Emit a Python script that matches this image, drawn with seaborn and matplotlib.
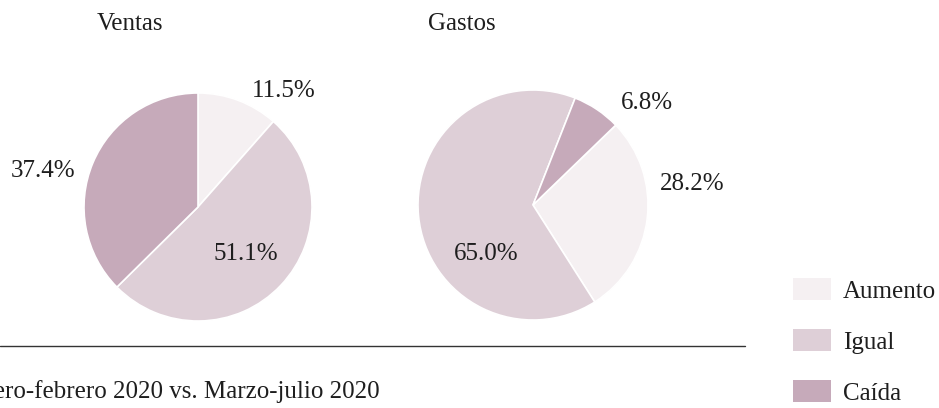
import matplotlib
matplotlib.use("Agg")
import matplotlib.pyplot as plt
import seaborn as sns
import numpy as np
from matplotlib.patches import Patch
from matplotlib.lines import Line2D

# ---- data ----
categories = ["Aumento", "Igual", "Caída"]
ventas = [11.5, 51.1, 37.4]
gastos = [28.2, 65.0, 6.8]
titles = ["Ventas", "Gastos"]
subtitle = "Enero-febrero 2020 vs. Marzo-julio 2020"
colors = ["#F5F0F2", "#DECFD7", "#C6AABA"]

sns.set_theme(style="white")
plt.rcParams["font.family"] = ["Liberation Serif", "DejaVu Serif"]
TXT = "#1e1e1e"
FS = 18

W, H = 939, 408
fig = plt.figure(figsize=(W / 100, H / 100), dpi=100)
SPAN = 1.5


def pie_axes(cx, cy, r):
    ax = fig.add_axes([(cx - r * SPAN) / W, (H - cy - r * SPAN) / H,
                       2 * r * SPAN / W, 2 * r * SPAN / H])
    return ax


def finish(ax):
    ax.set_xlim(-SPAN, SPAN)
    ax.set_ylim(-SPAN, SPAN)
    ax.set_aspect("equal")
    ax.axis("off")


# Ventas
ax1 = pie_axes(198, 207, 114)
ax1.pie(ventas, colors=colors, startangle=90, counterclock=False, radius=1,
        wedgeprops=dict(edgecolor="white", linewidth=1.2))
finish(ax1)
v_pos = [(0.75, 1.04), (0.42, -0.39), (-1.36, 0.34)]
for val, (x, y) in zip(ventas, v_pos):
    ax1.text(x, y, f"{val:.1f}%", ha="center", va="center_baseline", fontsize=FS,
             color=TXT, clip_on=False)

# Gastos
ax2 = pie_axes(533, 205, 115)
ax2.pie(gastos, colors=colors, startangle=44, counterclock=False, radius=1,
        wedgeprops=dict(edgecolor="white", linewidth=1.2))
finish(ax2)
g_pos = [(1.38, 0.20), (-0.41, -0.40), (0.99, 0.91)]
for val, (x, y) in zip(gastos, g_pos):
    ax2.text(x, y, f"{val:.1f}%", ha="center", va="center_baseline", fontsize=FS,
             color=TXT, clip_on=False)

# titles
fig.text(130 / W, 1 - 22 / H, titles[0], ha="center", va="center_baseline", fontsize=FS, color=TXT)
fig.text(462 / W, 1 - 22 / H, titles[1], ha="center", va="center_baseline", fontsize=FS, color=TXT)

# separator line
fig.add_artist(Line2D([0, 745 / W], [1 - 346 / H, 1 - 346 / H], color="#333333", lw=1.0))

# subtitle (cut off at the left edge as in the reference)
fig.text(380 / W, 1 - 389 / H, subtitle, ha="right", va="center_baseline", fontsize=FS, color=TXT)

# legend
handles = [Patch(facecolor=c, edgecolor="none") for c in colors]
leg = fig.legend(handles, categories, loc="upper left",
                 bbox_to_anchor=(793 / W, 1 - 278 / H), frameon=False,
                 fontsize=FS, handlelength=1.5, handleheight=1.0,
                 labelspacing=1.05, handletextpad=0.5, borderpad=0, borderaxespad=0)
for t in leg.get_texts():
    t.set_color(TXT)

fig.savefig("out.png", dpi=100)
